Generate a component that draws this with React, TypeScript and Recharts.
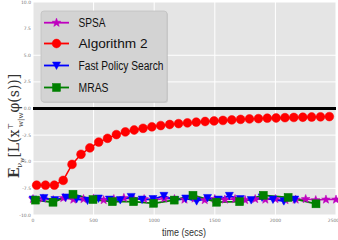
import React from 'react';
import { LineChart, Line, XAxis, YAxis, CartesianGrid, ReferenceLine } from 'recharts';

// time stamps (secs) and values
const alg2Times = [30, 103, 176, 249, 322, 396, 469, 542, 615, 688, 762, 835, 908, 981, 1054, 1128, 1201, 1274, 1347, 1420, 1494, 1567, 1640, 1713, 1786, 1860, 1933, 2006, 2079, 2152, 2226, 2299, 2372, 2445];
const alg2Values = [-7.2, -7.2, -7.2, -6.75, -5.25, -4.3, -3.7, -3.15, -2.8, -2.45, -2.2, -2.02, -1.86, -1.72, -1.6, -1.5, -1.42, -1.35, -1.28, -1.22, -1.17, -1.12, -1.07, -1.02, -0.98, -0.95, -0.91, -0.89, -0.86, -0.84, -0.82, -0.8, -0.78, -0.76];

const spsaTimes = [0, 83, 167, 250, 333, 417, 500, 583, 667, 750, 833, 917, 1000, 1083, 1167, 1250, 1333, 1417, 1500, 1583, 1667, 1750, 1833, 1917, 2000, 2083, 2167, 2250, 2333, 2417, 2500];
const spsaValues = [-8.5, -8.45, -8.6, -8.4, -8.55, -8.5, -8.45, -8.6, -8.5, -8.4, -8.55, -8.5, -8.6, -8.45, -8.5, -8.55, -8.45, -8.6, -8.5, -8.55, -8.5, -8.6, -8.5, -8.55, -8.5, -8.6, -8.55, -8.5, -8.6, -8.55, -8.55];

const fpsTimes = [0, 90, 180, 270, 360, 450, 540, 630, 720, 810, 900, 990, 1080, 1170, 1260, 1350, 1440, 1530, 1620, 1710, 1800, 1890, 1980, 2070, 2160];
const fpsValues = [-8.55, -8.4, -8.6, -8.35, -8.5, -8.65, -8.45, -8.55, -8.6, -8.3, -8.55, -8.5, -8.2, -8.6, -8.45, -8.7, -8.4, -8.55, -8.2, -8.5, -8.6, -8.35, -8.55, -8.7, -8.55];

const mrasTimes = [20, 165, 330, 495, 655, 830, 995, 1165, 1320, 1515, 1705, 1900, 2105, 2335];
const mrasValues = [-8.6, -8.8, -8.05, -8.55, -8.75, -8.75, -8.9, -8.6, -8.15, -8.8, -8.75, -8.15, -8.35, -8.95];

const xTicks = [0, 500, 1000, 1500, 2000, 2500];
const yTicks = [-10, -7.5, -5, -2.5, 0, 2.5, 5, 7.5, 10];

const zip = (ts: number[], vs: number[]) => ts.map((t, i) => ({ t, v: vs[i] }));

const alg2Data = zip(alg2Times, alg2Values);
const spsaData = zip(spsaTimes, spsaValues);
const fpsData = zip(fpsTimes, fpsValues);
const mrasData = zip(mrasTimes, mrasValues);

const MAGENTA = '#bf00bf';
const RED = '#ff0000';
const BLUE = '#0000ff';
const GREEN = '#008000';

const starPath = (cx: number, cy: number, r: number) => {
  let d = '';
  for (let i = 0; i < 10; i++) {
    const rr = i % 2 === 0 ? r : r * 0.42;
    const a = -Math.PI / 2 + (i * Math.PI) / 5;
    d += (i === 0 ? 'M' : 'L') + (cx + rr * Math.cos(a)).toFixed(2) + ',' + (cy + rr * Math.sin(a)).toFixed(2);
  }
  return d + 'Z';
};

const StarMark = ({ cx, cy }: { cx: number; cy: number }) => (
  <path d={starPath(cx, cy, 4.6)} fill={MAGENTA} stroke={MAGENTA} strokeWidth={0.5} />
);
const CircleMark = ({ cx, cy }: { cx: number; cy: number }) => (
  <circle cx={cx} cy={cy} r={4.4} fill={RED} stroke={RED} strokeWidth={0.5} />
);
const TriMark = ({ cx, cy }: { cx: number; cy: number }) => (
  <path d={`M${cx - 4},${cy - 3.5}L${cx + 4},${cy - 3.5}L${cx},${cy + 4}Z`} fill={BLUE} stroke={BLUE} strokeWidth={0.5} />
);
const SquareMark = ({ cx, cy }: { cx: number; cy: number }) => (
  <rect x={cx - 4} y={cy - 4} width={8} height={8} fill={GREEN} stroke={GREEN} strokeWidth={0.5} />
);

const dotOf = (Mark: React.FC<{ cx: number; cy: number }>) => (props: any) => (
  <Mark key={`d-${props.index}`} cx={props.cx} cy={props.cy} />
);

const legendItems = [
  { name: 'SPSA', color: MAGENTA, Mark: StarMark, w: 27 },
  { name: 'Algorithm 2', color: RED, Mark: CircleMark, w: 69 },
  { name: 'Fast Policy Search', color: BLUE, Mark: TriMark, w: 85 },
  { name: 'MRAS', color: GREEN, Mark: SquareMark, w: 30 },
];
const legendRows = [22.7, 43.5, 65.5, 87.5];

const tickStyle = { fontSize: 4.5, fill: '#777', fontFamily: 'DejaVu Sans' };
const textFont = "'Liberation Sans Narrow', 'Liberation Sans', sans-serif";

export default function App() {
  return (
    <div style={{ position: 'relative', width: 338, height: 240 }}>
      <style>{'body{margin:0}'}</style>
      <LineChart width={338} height={240} margin={{ top: 2, right: 2, bottom: 0, left: 0 }}>
        <CartesianGrid fill="#e5e5e5" stroke="#ffffff" strokeWidth={1} />
        <XAxis
          type="number"
          dataKey="t"
          domain={[0, 2500]}
          ticks={xTicks}
          height={25}
          axisLine={false}
          tickLine={false}
          tickSize={0}
          tickMargin={4}
          tick={tickStyle}
          allowDuplicatedCategory={false}
        />
        <YAxis
          type="number"
          dataKey="v"
          domain={[-10, 10]}
          ticks={yTicks}
          width={33}
          axisLine={false}
          tickLine={false}
          tickSize={0}
          tickMargin={2}
          tick={tickStyle}
          tickFormatter={(v: number) => v.toFixed(1)}
        />
        <ReferenceLine y={0} stroke="#000" strokeWidth={3} />
        <Line data={spsaData} dataKey="v" stroke={MAGENTA} strokeWidth={1.5} dot={dotOf(StarMark)} isAnimationActive={false} />
        <Line data={alg2Data} dataKey="v" stroke={RED} strokeWidth={1.5} dot={dotOf(CircleMark)} isAnimationActive={false} />
        <Line data={fpsData} dataKey="v" stroke={BLUE} strokeWidth={1.8} dot={dotOf(TriMark)} isAnimationActive={false} />
        <Line data={mrasData} dataKey="v" stroke={GREEN} strokeWidth={1.8} dot={dotOf(SquareMark)} isAnimationActive={false} />
      </LineChart>
      <svg width={338} height={240} style={{ position: 'absolute', left: 0, top: 0, pointerEvents: 'none' }}>
        <rect x={42} y={12} width={126} height={91} rx={3} fill="#9a9a9a" opacity={0.35} />
        <rect x={41} y={11} width={126} height={91} rx={3} fill="#d3d3d3" stroke="#c2c2c2" strokeWidth={0.8} />
        {legendItems.map((it, i) => (
          <g key={it.name}>
            <line x1={44} x2={69} y1={legendRows[i]} y2={legendRows[i]} stroke={it.color} strokeWidth={1.8} />
            <it.Mark cx={56.5} cy={legendRows[i]} />
            <text
              x={78.5}
              y={legendRows[i] + 4.5}
              fontSize={12.5}
              fontFamily={textFont}
              fill="#111"
              textLength={it.w}
              lengthAdjust="spacingAndGlyphs"
            >
              {it.name}
            </text>
          </g>
        ))}
        <text x={162} y={236} fontSize={11} fontFamily={textFont} fill="#333" textLength={44} lengthAdjust="spacingAndGlyphs">
          time (secs)
        </text>
        <text transform="translate(19,126) rotate(-90)" textAnchor="middle" fontFamily="'DejaVu Serif', serif" fontSize={14} fill="#333">
          <tspan fontWeight="bold">E</tspan>
          <tspan fontSize={8} dy={3}>ν</tspan>
          <tspan fontSize={6} dy={2}>w</tspan>
          <tspan dy={-5}>[L(x</tspan>
          <tspan fontSize={7} dy={-6}>⊤</tspan>
          <tspan fontSize={7} dx={-4} dy={10}>w|w</tspan>
          <tspan dy={-4}>φ(s))]</tspan>
        </text>
      </svg>
    </div>
  );
}
